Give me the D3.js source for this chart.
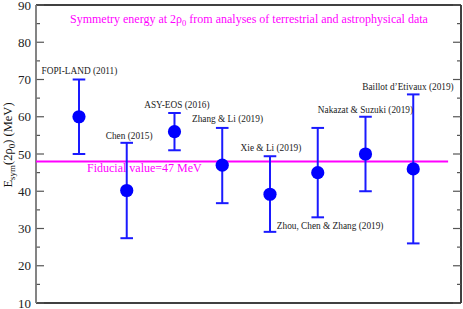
<!DOCTYPE html>
<html><head><meta charset="utf-8">
<script src="https://cdn.jsdelivr.net/npm/d3@7"></script>
<style>body{margin:0;background:#fff}svg{display:block}text{font-family:"Liberation Serif","Times New Roman",serif}</style>
</head><body>
<svg id="c" width="463" height="309"></svg>
<script>
const labels = ["FOPI-LAND (2011)","Chen (2015)","ASY-EOS (2016)","Zhang & Li (2019)","Xie & Li (2019)","Zhou, Chen & Zhang (2019)","Nakazat & Suzuki (2019)","Baillot d\u2019Etivaux (2019)"];
const xPos = [1,2,3,4,5,6,7,8];
const values = [60,40.2,56,47,39.2,45,50,46];
const upper = [70,53,61,57,49.4,57,60,66];
const lower = [50,27.4,51,36.8,29.1,33,40,26];
// label anchor positions in data units [x, y]
const labelX = [1.01,2.05,3.05,4.11,5.02,6.26,7.0,7.89];
const labelY = [72.2,54.7,63.2,59.5,51.6,30.75,61.9,68];
const fiducial = 48;
const yTicks = [10,20,30,40,50,60,70,80,90];

const svg = d3.select("#c");
const L=36, R=461, T=5, B=303;
const x = d3.scaleLinear().domain([0.1,9]).range([L,R]);
const y = d3.scaleLinear().domain([10,90]).range([B,T]);

// frame
svg.append("line").attr("x1",L).attr("x2",R).attr("y1",T).attr("y2",T).attr("stroke","#000").attr("stroke-width",1.5);
svg.append("line").attr("x1",L).attr("x2",R).attr("y1",B).attr("y2",B).attr("stroke","#000").attr("stroke-width",1.5);
svg.append("line").attr("x1",R).attr("x2",R).attr("y1",T).attr("y2",B).attr("stroke","#000").attr("stroke-width",1.5);

// left axis
const minor = d3.range(15,90,10);
const la = svg.append("g");
la.selectAll(".mj").data(yTicks).join("line").attr("class","mj").attr("x1",L).attr("x2",L+8).attr("y1",d=>y(d)).attr("y2",d=>y(d)).attr("stroke","#555").attr("stroke-width",1.2);
la.selectAll(".mn").data(minor).join("line").attr("class","mn").attr("x1",L).attr("x2",L+4).attr("y1",d=>y(d)).attr("y2",d=>y(d)).attr("stroke","#555").attr("stroke-width",1.2);
la.selectAll("text").data(yTicks).join("text").attr("x",L-5).attr("y",d=>y(d)+4.5).attr("text-anchor","end").attr("font-size",13).attr("fill","#222").text(d=>d);
svg.append("line").attr("x1",L).attr("x2",L).attr("y1",T).attr("y2",B).attr("stroke","#777").attr("stroke-width",1.8);

// right axis ticks
const ra = svg.append("g");
ra.selectAll(".mj").data(yTicks).join("line").attr("class","mj").attr("x1",R).attr("x2",R-8).attr("y1",d=>y(d)).attr("y2",d=>y(d)).attr("stroke","#555").attr("stroke-width",1.2);
ra.selectAll(".mn").data(minor).join("line").attr("class","mn").attr("x1",R).attr("x2",R-4).attr("y1",d=>y(d)).attr("y2",d=>y(d)).attr("stroke","#555").attr("stroke-width",1.2);

// y label
const yl = svg.append("text").attr("transform","translate(12,145) rotate(-90)").attr("text-anchor","middle").attr("font-size",12.5).attr("fill","#111");
yl.append("tspan").text("E");
yl.append("tspan").attr("font-size",9).attr("dy",3).text("sym");
yl.append("tspan").attr("dy",-3).text("(2\u03C1");
yl.append("tspan").attr("font-size",9).attr("dy",3).text("0");
yl.append("tspan").attr("dy",-3).text(") (MeV)");

// title
const tt = svg.append("text").attr("x",70).attr("y",23).attr("font-size",12).attr("fill","#ff00ff");
tt.append("tspan").text("Symmetry energy at 2\u03C1");
tt.append("tspan").attr("font-size",8.5).attr("dy",3).text("0");
tt.append("tspan").attr("dy",-3).text(" from analyses of terrestrial and astrophysical data");

// fiducial line
svg.append("line").attr("x1",L).attr("x2",x(8.73)).attr("y1",y(fiducial)).attr("y2",y(fiducial)).attr("stroke","#ff00ff").attr("stroke-width",2);
svg.append("text").attr("x",87).attr("y",y(fiducial)+10.5).attr("font-size",12).attr("fill","#ff00ff").text("Fiducial value=47 MeV");

// error bars
const cap = 6.3;
const g = svg.append("g");
xPos.forEach((xi,i)=>{
  const cx = x(xi);
  g.append("line").attr("x1",cx).attr("x2",cx).attr("y1",y(lower[i])).attr("y2",y(upper[i])).attr("stroke","#1a1aff").attr("stroke-width",2);
  g.append("line").attr("x1",cx-cap).attr("x2",cx+cap).attr("y1",y(upper[i])).attr("y2",y(upper[i])).attr("stroke","#1a1aff").attr("stroke-width",2);
  g.append("line").attr("x1",cx-cap).attr("x2",cx+cap).attr("y1",y(lower[i])).attr("y2",y(lower[i])).attr("stroke","#1a1aff").attr("stroke-width",2);
  g.append("circle").attr("cx",cx).attr("cy",y(values[i])).attr("r",6.6).attr("fill","#0000ff");
});

// labels
svg.append("g").selectAll("text").data(labels).join("text")
  .attr("x",(d,i)=>x(labelX[i])).attr("y",(d,i)=>y(labelY[i])+3)
  .attr("text-anchor","middle").attr("font-size",9.3).attr("fill","#222").text(d=>d);
</script>
</body></html>
